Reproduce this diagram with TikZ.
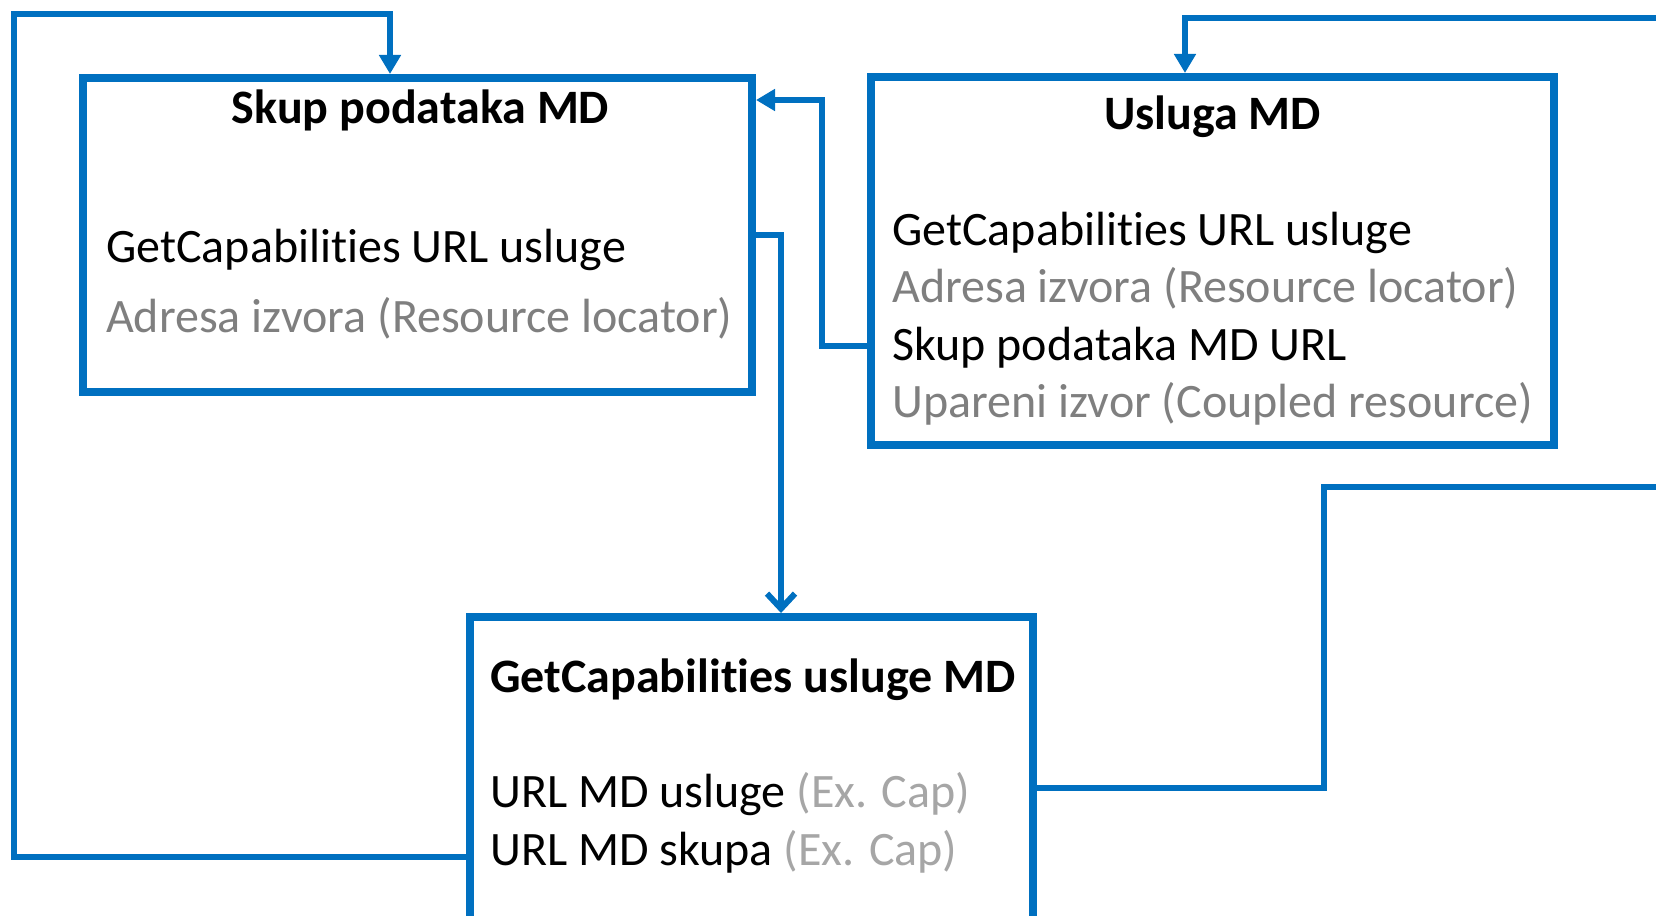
\documentclass[tikz,border=0pt]{standalone}
\usepackage{fontspec}
\setmainfont{Carlito}[Ligatures=NoCommon]
\usetikzlibrary{arrows.meta}
\definecolor{mdblue}{HTML}{0070C0}
\definecolor{dgray}{HTML}{7F7F7F}
\definecolor{lgray}{HTML}{A6A6A6}
\tikzset{
  mdbox/.style={draw=mdblue, line width=8pt, rectangle, inner sep=0pt},
  conn/.style={draw=mdblue, line width=6pt},
  tip/.style={-{Triangle[length=19pt,width=21pt]}},
  vtip/.style={-{Straight Barb[length=15pt,width=28pt,line width=6pt]}},
  txt/.style={anchor=base west, inner sep=0pt, font=\fontsize{48}{57}\selectfont},
  ttl/.style={anchor=base, inner sep=0pt, font=\fontsize{48}{57}\selectfont\bfseries},
}
\begin{document}
\begin{tikzpicture}[x=1pt,y=-1pt]
\useasboundingbox (0,0) rectangle (1656,915);
\clip (0,0) rectangle (1656,915);
\fill[white] (0,0) rectangle (1656,915);
% boxes
\node[mdbox, minimum width=669pt, minimum height=314pt] (A) at (417.5,235) {};
\node[mdbox, minimum width=683pt, minimum height=368pt] (B) at (1212.5,261) {};
\node[mdbox, minimum width=563pt, minimum height=342pt] (C) at (751.5,788) {};
% texts box A
\node[ttl] (at) at (420.5,124) {Skup podataka MD};
\node[txt] (al1) at (106,262) {GetCapabilities URL usluge};
\node[txt, text=dgray] (al2) at (106,332) {Adresa izvora (Resource locator)};
% texts box B
\node[ttl] (bt) at (1212.5,130) {Usluga MD};
\node[txt] (bl1) at (892,245) {GetCapabilities URL usluge};
\node[txt, text=dgray] (bl2) at (892,302) {Adresa izvora (Resource locator)};
\node[txt] (bl3) at (892,360) {Skup podataka MD URL};
\node[txt, text=dgray] (bl4) at (892,417) {Upareni izvor (Coupled resource)};
% texts box C
\node[ttl, anchor=base west] (ct) at (490,692) {GetCapabilities usluge MD};
\node[txt] (cl1) at (490,807) {URL MD usluge {\color{lgray}(Ex. Cap)}};
\node[txt] (cl2) at (490,865) {URL MD skupa {\color{lgray}(Ex. Cap)}};
% bend points
\coordinate (c1a) at (14,857);
\coordinate (c1b) at (14,14);
\coordinate (c1c) at (390,14);
\coordinate (c2a) at (822,346);
\coordinate (c2b) at (822,100);
\coordinate (c3a) at (781,235);
\coordinate (c4a) at (1324,788);
\coordinate (c4b) at (1324,487);
\coordinate (c4c) at (1670,487);
\coordinate (c5a) at (1670,18);
\coordinate (c5b) at (1185,18);
% connectors
\draw[conn, tip] (C.west |- c1a) -- (c1a) -- (c1b) -- (c1c) -- (c1c |- A.north);
\draw[conn, tip] (B.west |- c2a) -- (c2a) -- (c2b) -- (A.east |- c2b);
\draw[conn, vtip] (A.east |- c3a) -- (c3a) -- (c3a |- C.north);
\draw[conn] (C.east |- c4a) -- (c4a) -- (c4b) -- (c4c);
\draw[conn, tip] (c5a) -- (c5b) -- (c5b |- B.north);
\end{tikzpicture}
\end{document}
